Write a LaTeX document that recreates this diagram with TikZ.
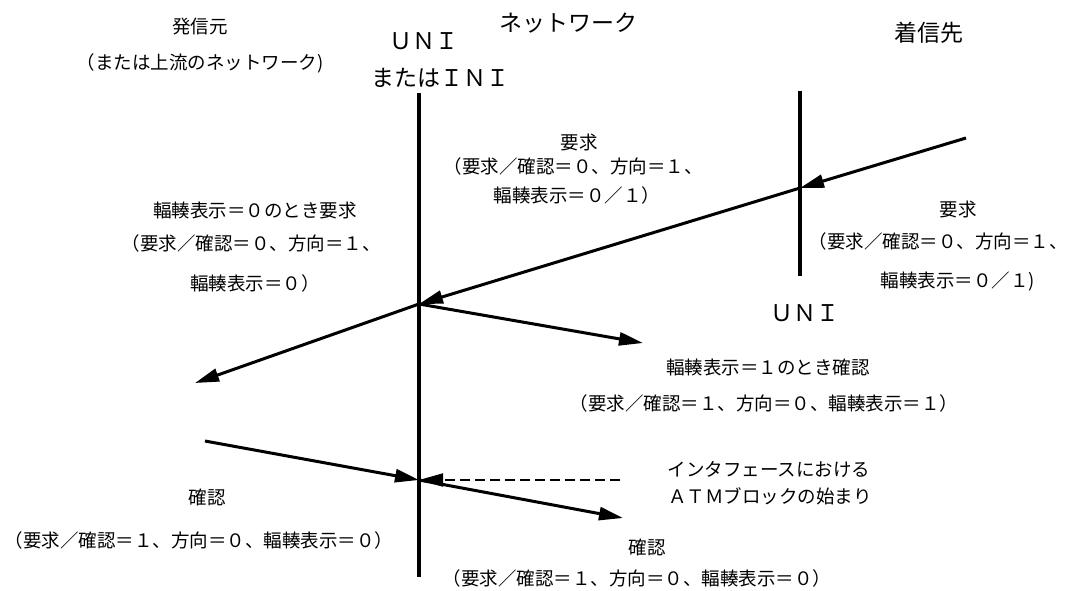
\documentclass[tikz,border=0pt]{standalone}
\usepackage{fontspec}
\setmainfont{Noto Sans CJK JP}
\usetikzlibrary{arrows.meta}
\tikzset{
  lbl/.style={inner sep=0pt, anchor=center, font=\fontsize{18.5}{20}\selectfont},
  hdr/.style={inner sep=0pt, anchor=center, font=\fontsize{23}{25}\selectfont},
  iface/.style={line width=3.5pt},
  msg/.style={line width=3pt, -{Triangle[length=24pt,width=13pt]}},
  marker/.style={line width=2pt, dash pattern=on 10pt off 5pt, -{Triangle[length=24pt,width=13pt]}}
}
\begin{document}
\begin{tikzpicture}[x=1pt,y=-1pt]
\useasboundingbox (0,0) rectangle (1067,590);
% headers
\node[lbl] (src) at (200,27) {発信元};
\node[lbl] (src2) at (200,63) {（または上流のネットワーク)};
\node[hdr] (uni1) at (424,41) {ＵＮＩ};
\node[hdr] (ini) at (440,78) {またはＩＮＩ};
\node[hdr] (net) at (568,23) {ネットワーク};
\node[hdr] (dst) at (929,33) {着信先};
\node[hdr] (uni2) at (805,313) {ＵＮＩ};
% interface lines
\coordinate (ltop) at (419,93);
\coordinate (lbot) at (419,577);
\coordinate (rtop) at (800,91);
\coordinate (rbot) at (800,276);
\draw[iface] (ltop) -- (lbot);
\draw[iface, line width=4.5pt] (rtop) -- (rbot);
% message points
\coordinate (rs) at (966,138);
\coordinate (rx) at (800,188);
\coordinate (lx) at (419,304);
\coordinate (c1) at (643,343);
\coordinate (c2) at (195,383);
\coordinate (bs) at (205,441);
\coordinate (bx) at (419,480);
\coordinate (c3) at (623,518);
\coordinate (dend) at (620,480);
\draw[msg] (rs) -- (rx);
\draw[msg] (rx) -- (lx);
\draw[msg] (lx) -- (c1);
\draw[msg] (lx) -- (c2);
\draw[msg] (bs) -- (bx);
\draw[msg] (bx) -- (c3);
\draw[marker] (dend) -- (bx);
% labels
\node[lbl] (rq1a) at (579,143) {要求};
\node[lbl] (rq1b) at (573,166) {（要求／確認＝０、方向＝１、};
\node[lbl] (rq1c) at (577,195) {輻輳表示＝０／１）};
\node[lbl] (rq2a) at (958,209) {要求};
\node[lbl] (rq2b) at (938,241) {（要求／確認＝０、方向＝１、};
\node[lbl] (rq2c) at (958,281) {輻輳表示＝０／１)};
\node[lbl] (rq3a) at (255,210) {輻輳表示＝０のとき要求};
\node[lbl] (rq3b) at (251,243) {（要求／確認＝０、方向＝１、};
\node[lbl] (rq3c) at (255,283) {輻輳表示＝０）};
\node[lbl] (cf1a) at (768,367) {輻輳表示＝１のとき確認};
\node[lbl] (cf1b) at (764,403) {（要求／確認＝１、方向＝０、輻輳表示＝１）};
\node[lbl] (ifa) at (769,470) {インタフェースにおける};
\node[lbl] (ifb) at (770,496) {ＡＴＭブロックの始まり};
\node[lbl] (cf2a) at (207,497) {確認};
\node[lbl] (cf2b) at (199,540) {（要求／確認＝１、方向＝０、輻輳表示＝０）};
\node[lbl] (cf3a) at (647,547) {確認};
\node[lbl] (cf3b) at (637,578) {（要求／確認＝１、方向＝０、輻輳表示＝０）};
\end{tikzpicture}
\end{document}
